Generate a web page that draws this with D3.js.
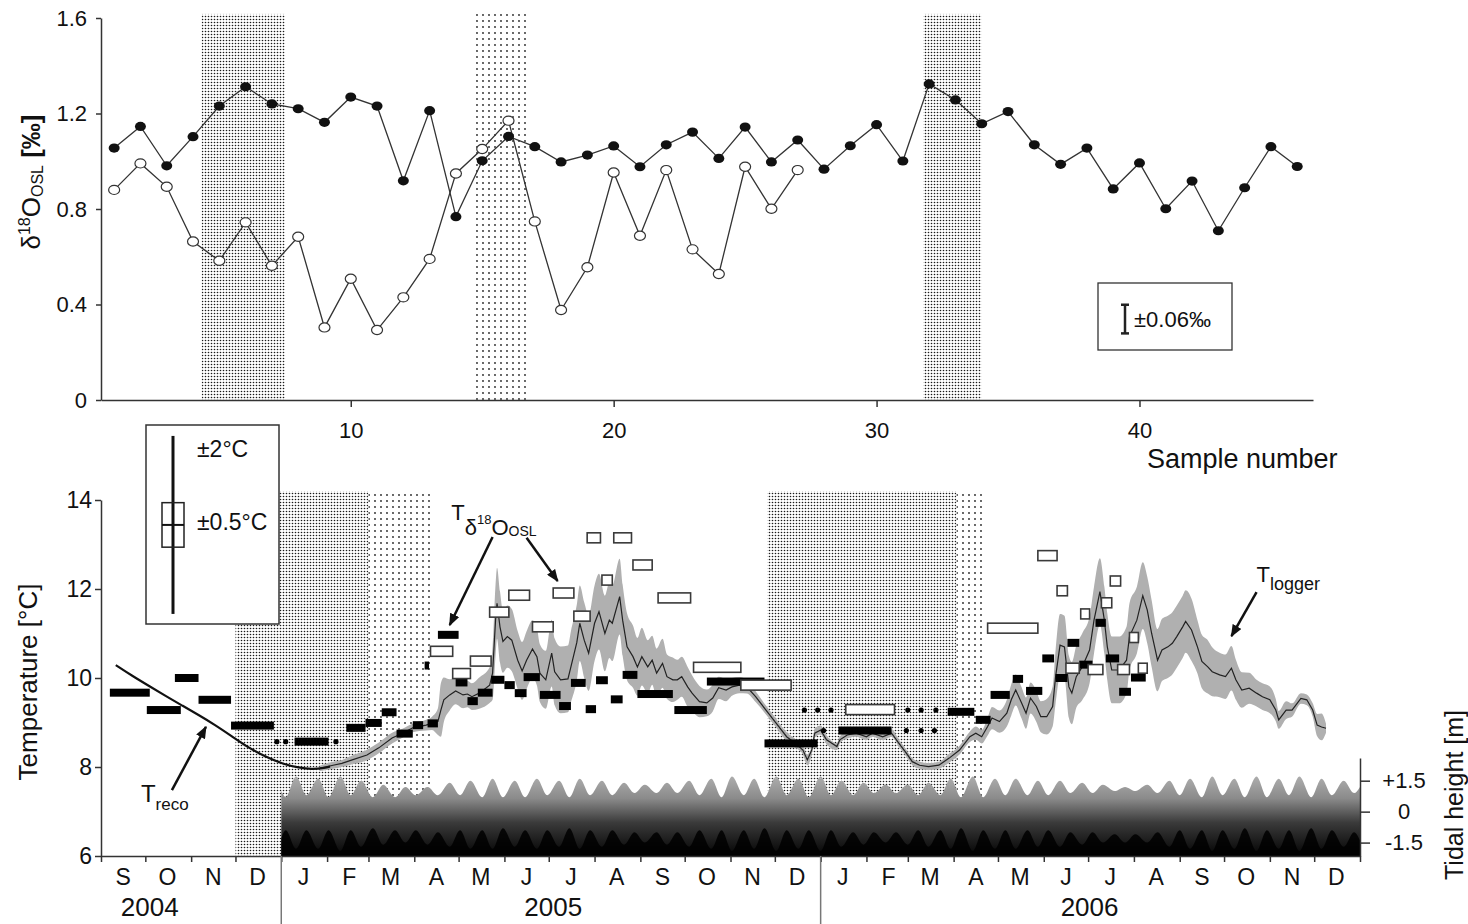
<!DOCTYPE html>
<html>
<head>
<meta charset="utf-8">
<script src="https://cdn.jsdelivr.net/npm/d3@7"></script>
<style>
  body { margin: 0; background: #fff; }
  svg { font-family: "Liberation Sans", Arial, sans-serif; }
  .axis path, .axis line { stroke: #333; stroke-width: 1.5; }
  .axis text { fill: #111; }
</style>
</head>
<body>
<svg id="chart" width="1468" height="924"></svg>
<script>
// ---------- top panel data: d18O per sample ----------
const sampleFilled = [1.055,1.146,0.981,1.103,1.231,1.312,1.240,1.220,1.163,1.269,1.231,0.918,1.212,0.768,1.002,
  1.104,1.061,0.997,1.026,1.064,0.977,1.069,1.122,1.012,1.143,0.997,1.089,0.967,1.065,1.153,1.001,1.324,1.257,
  1.157,1.208,1.069,0.987,1.055,0.884,0.993,0.801,0.917,0.709,0.889,1.061,0.978];
const sampleOpen = [0.880,0.991,0.893,0.664,0.583,0.744,0.562,0.684,0.304,0.508,0.293,0.430,0.591,0.949,1.051,
  1.170,0.748,0.377,0.556,0.953,0.688,0.963,0.631,0.528,0.977,0.801,0.963];
const sampleShade = [[4.33, 7.5, "dense"], [14.74, 16.72, "sparse"], [31.78, 33.98, "dense"]];
const sampleTicks = [10, 20, 30, 40];
const d18Ticks = [0, 0.4, 0.8, 1.2, 1.6];

// ---------- bottom panel data (days counted from 1 Jan 2005) ----------
const tempTicks = [6, 8, 10, 12, 14];
const tideTicks = [-1.5, 0, 1.5];
const years = [["2004", -89], ["2005", 184], ["2006", 547]];
const dateShade = [[-31, 59, "dense"], [59, 101, "sparse"], [329, 457, "dense"], [457, 476, "sparse"]];

// reconstructed temperature [day, T]
const tReco = [[-112,10.29],[-101,10.05],[-89,9.81],[-78,9.59],[-67,9.38],[-56,9.17],[-45,8.95],[-33,8.68],
  [-22,8.43],[-10,8.22],[1,8.07],[12,7.98],[21,7.95],[28,7.97],[33,8.01]];

// logger temperature [day, T, half range]
const logger = [[26,7.97,0.06],[35,8.04,0.08],[41,8.08,0.08],[48,8.16,0.1],[58,8.27,0.12],[66,8.43,0.12],
  [75,8.65,0.12],[82,8.76,0.1],[89,8.88,0.1],[98,8.94,0.12],[102,8.98,0.15],[106,9.02,0.3],[108,9.28,0.6],
  [110,9.51,0.5],[114,9.62,0.35],[118,9.71,0.3],[123,9.62,0.3],[126,9.64,0.3],[129,9.58,0.3],[134,9.66,0.35],
  [141,9.84,0.4],[143,10.11,0.6],[145,11.30,0.8],[146,11.68,0.8],[148,11.15,0.8],[150,10.82,0.7],[153,10.93,0.7],
  [156,10.85,0.7],[160,10.40,0.65],[163,10.16,0.65],[166,10.40,0.65],[170,10.65,0.65],[173,10.48,0.65],[175,10.11,0.65],
  [179,9.96,0.65],[183,10.56,0.75],[185,10.14,0.75],[189,9.96,0.75],[194,9.98,0.75],[196,10.25,0.8],[200,10.80,0.85],
  [202,11.23,0.85],[205,10.85,0.85],[208,10.56,0.85],[212,11.23,0.85],[215,11.49,0.85],[219,11.00,0.85],[222,11.30,0.85],
  [224,11.23,0.85],[229,11.83,0.85],[231,11.30,0.8],[234,10.70,0.75],[238,10.48,0.7],[241,10.25,0.65],[244,10.48,0.65],
  [248,10.25,0.6],[251,10.40,0.55],[254,10.11,0.55],[258,10.33,0.55],[261,10.03,0.5],[265,9.96,0.5],[268,9.96,0.45],
  [271,10.03,0.45],[275,9.80,0.45],[278,9.66,0.4],[283,9.47,0.35],[288,9.44,0.3],[292,9.55,0.3],[296,9.78,0.25],
  [301,9.73,0.25],[305,9.80,0.2],[310,9.84,0.18],[315,9.80,0.15],[321,9.58,0.12],[328,9.28,0.1],[335,8.98,0.1],
  [342,8.68,0.1],[348,8.53,0.1],[353,8.38,0.1],[356,8.16,0.12],[359,8.38,0.1],[361,8.76,0.1],[365,8.83,0.1],
  [369,8.61,0.1],[376,8.46,0.08],[378,8.61,0.08],[383,8.72,0.08],[389,8.76,0.08],[396,8.68,0.08],[400,8.76,0.08],
  [407,8.68,0.08],[413,8.76,0.08],[418,8.53,0.08],[423,8.31,0.08],[427,8.12,0.08],[432,8.04,0.08],[438,8.01,0.08],
  [445,8.04,0.08],[452,8.20,0.1],[459,8.38,0.1],[466,8.68,0.12],[470,8.76,0.15],[474,8.68,0.15],[478,8.91,0.2],
  [481,9.10,0.25],[486,9.02,0.25],[491,9.21,0.3],[494,9.51,0.35],[497,9.73,0.35],[501,9.44,0.35],[504,9.21,0.35],
  [507,9.55,0.35],[511,9.36,0.35],[514,9.13,0.35],[518,9.13,0.4],[522,9.36,0.45],[524,10.03,0.6],[527,10.74,0.7],
  [530,10.70,0.7],[533,9.80,0.7],[535,9.66,0.7],[538,10.03,0.7],[542,10.25,0.75],[547,10.63,0.75],[550,11.30,0.75],
  [554,11.94,0.75],[557,11.30,0.75],[559,10.70,0.75],[562,10.18,0.75],[567,10.18,0.75],[572,10.40,0.75],[574,10.93,0.75],
  [579,11.30,0.75],[583,11.85,0.75],[586,11.53,0.75],[589,11.00,0.75],[593,10.40,0.7],[596,10.63,0.7],[600,10.70,0.7],
  [603,10.78,0.7],[606,10.93,0.7],[610,11.15,0.7],[612,11.27,0.7],[616,11.08,0.7],[620,10.70,0.6],[623,10.37,0.6],
  [627,10.25,0.6],[630,10.14,0.55],[635,10.07,0.5],[639,10.03,0.5],[643,10.22,0.5],[646,9.96,0.45],[650,9.73,0.4],
  [655,9.77,0.35],[660,9.66,0.3],[664,9.58,0.3],[669,9.51,0.3],[673,9.28,0.25],[675,9.06,0.2],[680,9.28,0.2],
  [684,9.28,0.15],[690,9.54,0.12],[694,9.51,0.12],[698,9.28,0.15],[701,8.94,0.25],[704,8.90,0.3],[707,8.87,0.1]];

// temperatures from d18O of shell [start day, end day, T]
const barsFilled = [[-116,-89,9.67],[-91,-68,9.28],[-72,-56,10.0],[-56,-34,9.51],[-34,-5,8.93],[9,32,8.57],
  [44,57,8.88],[57,68,8.99],[68,78,9.23],[78,89,8.75],[89,96,8.94],[99,106,8.98],[106,120,10.97],[97,100,10.28],
  [118,126,9.90],[126,133,9.48],[133,143,9.67],[142,151,9.96],[151,158,9.84],[158,166,9.66],[164,175,10.02],
  [175,189,9.62],[188,196,9.37],[196,206,9.89],[206,213,9.30],[213,221,9.95],[223,231,9.52],[231,241,10.07],
  [241,265,9.64],[266,288,9.28],[288,327,9.92],[327,363,8.53],[377,413,8.82],[451,469,9.24],[470,480,9.06],
  [480,493,9.62],[495,502,9.98],[504,515,9.71],[515,523,10.44],[524,532,10.0],[532,540,10.79],[540,549,10.30],
  [551,558,11.24],[558,567,10.44],[567,575,9.69],[575,585,10.01]];
const barsOpen = [[101,116,10.6],[116,128,10.1],[128,142,10.38],[141,154,11.48],[154,168,11.86],[170,184,11.15],
  [184,198,11.91],[198,209,11.39],[207,216,13.15],[217,224,12.2],[225,237,13.15],[238,251,12.54],[255,277,11.8],
  [279,311,10.24],[311,345,9.84],[382,415,9.29],[478,512,11.12],[512,525,12.75],[525,532,11.96],[531,540,10.22],
  [541,547,11.44],[546,556,10.19],[555,562,11.69],[561,568,12.18],[566,574,10.19],[574,580,10.91],[580,586,10.22]];
const dots = [[-3,8.57],[3,8.57],[37,8.57],[354,9.28],[363,9.28],[372,9.28],[424,9.28],[433,9.28],[443,9.28],
  [367,8.82],[423,8.82],[433,8.82],[442,8.82]];

// tidal envelope [day, high water, low water] in m
const tide = [[0,1.0,-1.3],[3,0.7,-0.9],[10,1.7,-1.8],[17,0.8,-0.9],[25,1.6,-1.8],[32,0.7,-0.9],[40,1.7,-1.9],
  [47,0.8,-0.9],[54,1.5,-1.7],[62,0.7,-0.8],[69,1.3,-1.6],[77,0.7,-0.9],[84,1.2,-1.5],[91,0.8,-0.9],[99,1.2,-1.6],
  [106,0.8,-1.0],[114,1.4,-1.7],[121,0.8,-0.9],[128,1.5,-1.8],[136,0.7,-0.9],[143,1.6,-1.8],[150,0.7,-0.8],
  [158,1.5,-1.7],[165,0.7,-0.9],[173,1.6,-1.8],[180,0.8,-0.9],[188,1.5,-1.7],[195,0.7,-0.8],[202,1.6,-1.8],
  [209,0.8,-0.9],[217,1.5,-1.7],[224,0.8,-0.9],[232,1.4,-1.6],[239,0.9,-1.0],[246,1.3,-1.5],[254,0.9,-1.0],
  [261,1.4,-1.6],[268,0.9,-1.0],[276,1.5,-1.7],[283,0.8,-0.9],[291,1.6,-1.8],[298,0.7,-0.9],[305,1.7,-1.9],
  [313,0.8,-0.9],[320,1.6,-1.8],[327,0.7,-0.8],[335,1.7,-1.9],[342,0.8,-0.9],[350,1.6,-1.8],[357,0.7,-0.9],
  [365,1.7,-1.9],[372,0.8,-0.9],[379,1.5,-1.7],[387,0.8,-1.0],[394,1.4,-1.6],[401,0.9,-1.0],[409,1.3,-1.5],
  [416,0.9,-1.0],[424,1.3,-1.6],[431,0.8,-0.9],[438,1.4,-1.7],[446,0.8,-0.9],[453,1.6,-1.8],[460,0.7,-0.8],
  [468,1.7,-1.9],[475,0.7,-0.9],[483,1.6,-1.8],[490,0.8,-0.9],[497,1.6,-1.8],[505,0.8,-0.9],[512,1.5,-1.7],
  [519,0.8,-0.9],[527,1.5,-1.7],[534,0.9,-1.0],[542,1.4,-1.6],[549,0.9,-1.0],[556,1.3,-1.5],[564,1.0,-1.1],
  [571,1.2,-1.5],[578,1.0,-1.1],[586,1.3,-1.5],[593,0.9,-1.0],[601,1.5,-1.7],[608,0.8,-0.9],[615,1.6,-1.8],
  [623,0.7,-0.9],[630,1.7,-1.9],[637,0.8,-0.9],[645,1.6,-1.8],[652,0.7,-0.8],[660,1.7,-1.9],[667,0.7,-0.9],
  [675,1.6,-1.8],[682,0.8,-0.9],[689,1.7,-1.9],[697,0.7,-0.8],[704,1.6,-1.8],[711,0.8,-0.9],[719,1.5,-1.7],
  [726,0.9,-1.0],[730,1.2,-1.4]];

// ---------- setup ----------
const svg = d3.select("#chart");
const defs = svg.append("defs");

const dense = defs.append("pattern").attr("id", "dense").attr("patternUnits", "userSpaceOnUse")
  .attr("width", 3).attr("height", 3);
dense.append("rect").attr("width", 3).attr("height", 3).attr("fill", "#fff");
dense.append("circle").attr("cx", 1.5).attr("cy", 1.5).attr("r", 0.8).attr("fill", "#1a1a1a");

const sparse = defs.append("pattern").attr("id", "sparse").attr("patternUnits", "userSpaceOnUse")
  .attr("width", 6).attr("height", 6);
sparse.append("rect").attr("width", 6).attr("height", 6).attr("fill", "#fff");
sparse.append("circle").attr("cx", 3).attr("cy", 3).attr("r", 0.9).attr("fill", "#222");

defs.append("marker").attr("id", "arrow").attr("viewBox", "0 0 10 8")
  .attr("refX", 9).attr("refY", 4).attr("markerWidth", 13).attr("markerHeight", 10)
  .attr("markerUnits", "userSpaceOnUse").attr("orient", "auto")
  .append("path").attr("d", "M0,0 L10,4 L0,8 Z").attr("fill", "#111");

// ================= TOP PANEL =================
const xS = d3.scaleLinear().domain([0.5, 46.6]).range([101, 1313]);
const yS = d3.scaleLinear().domain([0, 1.6]).range([400, 18]);

svg.append("g").selectAll("rect").data(sampleShade).join("rect")
  .attr("x", d => xS(d[0])).attr("width", d => xS(d[1]) - xS(d[0]))
  .attr("y", yS(1.617)).attr("height", yS(0) - yS(1.617))
  .attr("fill", d => `url(#${d[2]})`);

const lineS = d3.line().x((d, i) => xS(i + 1)).y(d => yS(d));
svg.append("path").attr("d", lineS(sampleOpen)).attr("fill", "none").attr("stroke", "#333").attr("stroke-width", 1.3);
svg.append("path").attr("d", lineS(sampleFilled)).attr("fill", "none").attr("stroke", "#333").attr("stroke-width", 1.3);

svg.append("g").selectAll("ellipse").data(sampleOpen).join("ellipse")
  .attr("cx", (d, i) => xS(i + 1)).attr("cy", d => yS(d)).attr("rx", 5.5).attr("ry", 4.6)
  .attr("fill", "#fff").attr("stroke", "#333").attr("stroke-width", 1.2);
svg.append("g").selectAll("ellipse").data(sampleFilled).join("ellipse")
  .attr("cx", (d, i) => xS(i + 1)).attr("cy", d => yS(d)).attr("rx", 5.5).attr("ry", 4.6)
  .attr("fill", "#111");

svg.append("g").attr("class", "axis").attr("transform", "translate(101,0)")
  .call(d3.axisLeft(yS).tickValues(d18Ticks).tickFormat(d => d === 0 ? "0" : d.toFixed(1))
    .tickSize(5).tickSizeOuter(0).tickPadding(9))
  .selectAll("text").attr("font-size", 22);
svg.append("g").attr("class", "axis").attr("transform", "translate(0,400)")
  .call(d3.axisBottom(xS).tickValues(sampleTicks).tickSize(7).tickSizeOuter(0).tickPadding(15))
  .selectAll("text").attr("font-size", 22);

svg.append("text").attr("x", 1147).attr("y", 468).attr("font-size", 27).attr("fill", "#111").text("Sample number");

const yl = svg.append("text").attr("transform", "translate(40,182) rotate(-90)")
  .attr("text-anchor", "middle").attr("font-size", 26).attr("fill", "#111");
yl.append("tspan").text("δ");
yl.append("tspan").attr("font-size", 16).attr("dy", -10).text("18");
yl.append("tspan").attr("dy", 10).text("O");
yl.append("tspan").attr("font-size", 16).attr("dy", 3).text("OSL");
yl.append("tspan").attr("dy", -3).attr("font-weight", "bold").text(" [‰]");

// error legend
svg.append("rect").attr("x", 1098).attr("y", 283).attr("width", 134).attr("height", 67)
  .attr("fill", "#fff").attr("stroke", "#333").attr("stroke-width", 1.3);
const eC = 0.339, eX = 1125;
const eg = svg.append("g").attr("stroke", "#222").attr("stroke-width", 2.5);
eg.append("line").attr("x1", eX).attr("x2", eX).attr("y1", yS(eC + 0.06)).attr("y2", yS(eC - 0.06));
eg.append("line").attr("x1", eX - 4).attr("x2", eX + 4).attr("y1", yS(eC + 0.06)).attr("y2", yS(eC + 0.06));
eg.append("line").attr("x1", eX - 4).attr("x2", eX + 4).attr("y1", yS(eC - 0.06)).attr("y2", yS(eC - 0.06));
svg.append("text").attr("x", 1134).attr("y", 327).attr("font-size", 22).attr("fill", "#111").text("±0.06‰");

// ================= BOTTOM PANEL =================
const base = new Date(2005, 0, 1);
const day = n => d3.timeDay.offset(base, n);
const xT = d3.scaleTime().domain([new Date(2004, 8, 1), new Date(2007, 0, 1)]).range([101, 1360]);
const yT = d3.scaleLinear().domain([6, 14]).range([856, 500]);
const yTide = d3.scaleLinear().domain([-2.15, 2.6]).range([856, 758]);

// shaded periods
svg.append("g").selectAll("rect").data(dateShade).join("rect")
  .attr("x", d => xT(day(d[0]))).attr("width", d => xT(day(d[1])) - xT(day(d[0])))
  .attr("y", yT(14.2)).attr("height", yT(6) - yT(14.2))
  .attr("fill", d => `url(#${d[2]})`);

// tides
const tg = defs.append("linearGradient").attr("id", "tideGrad").attr("gradientUnits", "userSpaceOnUse")
  .attr("x1", 0).attr("x2", 0).attr("y1", yTide(1.8)).attr("y2", yTide(-2.1));
tg.append("stop").attr("offset", 0).attr("stop-color", "#b0b0b0");
tg.append("stop").attr("offset", 0.3).attr("stop-color", "#8a8a8a");
tg.append("stop").attr("offset", 0.6).attr("stop-color", "#3a3a3a");
tg.append("stop").attr("offset", 1).attr("stop-color", "#050505");

const areaHigh = d3.area().x(d => xT(day(d[0]))).y0(yT(6)).y1(d => yTide(d[1])).curve(d3.curveMonotoneX);
const areaLow = d3.area().x(d => xT(day(d[0]))).y0(yT(6)).y1(d => yTide(d[2])).curve(d3.curveMonotoneX);
svg.append("path").attr("d", areaHigh(tide)).attr("fill", "url(#tideGrad)");
svg.append("path").attr("d", areaLow(tide)).attr("fill", "#000").attr("opacity", 0.85);

// logger band and line
const band = d3.area().x(d => xT(day(d[0]))).y0(d => yT(d[1] - d[2])).y1(d => yT(d[1] + d[2]))
  .curve(d3.curveMonotoneX);
svg.append("path").attr("d", band(logger)).attr("fill", "#b0b0b0");
svg.append("path").attr("d", d3.line().x(d => xT(day(d[0]))).y(d => yT(d[1]))(logger))
  .attr("fill", "none").attr("stroke", "#222").attr("stroke-width", 1.2);

// reconstructed line
svg.append("path").attr("d", d3.line().x(d => xT(day(d[0]))).y(d => yT(d[1])).curve(d3.curveBasis)(tReco))
  .attr("fill", "none").attr("stroke", "#111").attr("stroke-width", 2.2);

// bars
svg.append("g").selectAll("rect").data(barsFilled).join("rect")
  .attr("x", d => xT(day(d[0]))).attr("width", d => xT(day(d[1])) - xT(day(d[0])))
  .attr("y", d => yT(d[2]) - 4).attr("height", 8).attr("fill", "#000");
svg.append("g").selectAll("circle").data(dots).join("circle")
  .attr("cx", d => xT(day(d[0]))).attr("cy", d => yT(d[1])).attr("r", 2.6).attr("fill", "#000");
svg.append("g").selectAll("rect").data(barsOpen).join("rect")
  .attr("x", d => xT(day(d[0]))).attr("width", d => xT(day(d[1])) - xT(day(d[0])))
  .attr("y", d => yT(d[2]) - 5).attr("height", 10)
  .attr("fill", "#fff").attr("stroke", "#3a3a3a").attr("stroke-width", 1.6);

// axes
svg.append("g").attr("class", "axis").attr("transform", "translate(101,0)")
  .call(d3.axisLeft(yT).tickValues(tempTicks).tickSize(6).tickSizeOuter(0).tickPadding(3))
  .selectAll("text").attr("font-size", 23);

const months = d3.timeMonth.range(new Date(2004, 8, 1), new Date(2007, 0, 2));
svg.append("g").attr("class", "axis").attr("transform", "translate(0,856)")
  .call(d3.axisBottom(xT).tickValues(months).tickSize(6).tickSizeOuter(0).tickFormat(""));
svg.append("g").selectAll("text").data(months.slice(0, -1)).join("text")
  .attr("x", d => xT(d3.timeDay.offset(d, 15))).attr("y", 885)
  .attr("text-anchor", "middle").attr("font-size", 23).attr("fill", "#111")
  .text(d => d3.timeFormat("%b")(d)[0]);

svg.append("g").selectAll("line").data([0, 365]).join("line")
  .attr("x1", d => xT(day(d))).attr("x2", d => xT(day(d)))
  .attr("y1", 856).attr("y2", 924).attr("stroke", "#777").attr("stroke-width", 1.5);
svg.append("g").selectAll("text").data(years).join("text")
  .attr("x", d => xT(day(d[1]))).attr("y", 916).attr("text-anchor", "middle")
  .attr("font-size", 26).attr("fill", "#111").text(d => d[0]);

svg.append("text").attr("transform", "translate(37,682) rotate(-90)").attr("text-anchor", "middle")
  .attr("font-size", 26).attr("fill", "#111").text("Temperature [°C]");

// tidal axis
const tAx = svg.append("g").attr("class", "axis").attr("transform", "translate(1360,0)")
  .call(d3.axisRight(yTide).tickValues(tideTicks).tickSize(10).tickSizeOuter(0)
    .tickFormat(d => d > 0 ? "+1.5" : d < 0 ? "-1.5" : "0"));
tAx.selectAll("text").attr("font-size", 22).attr("text-anchor", "middle").attr("x", 44);
svg.append("text").attr("transform", "translate(1463,795) rotate(-90)").attr("text-anchor", "middle")
  .attr("font-size", 25).attr("fill", "#111").text("Tidal height [m]");

// error legend
const lg = svg.append("g");
lg.append("rect").attr("x", 146).attr("y", 425).attr("width", 133).attr("height", 199)
  .attr("fill", "#fff").attr("stroke", "#333").attr("stroke-width", 1.5);
const lC = 13.44, lX = 173;
lg.append("line").attr("x1", lX).attr("x2", lX).attr("y1", yT(lC + 2)).attr("y2", yT(lC - 2))
  .attr("stroke", "#111").attr("stroke-width", 3);
lg.append("rect").attr("x", lX - 11).attr("width", 22).attr("y", yT(lC + 0.5)).attr("height", yT(lC - 0.5) - yT(lC + 0.5))
  .attr("fill", "none").attr("stroke", "#222").attr("stroke-width", 1.5);
lg.append("line").attr("x1", lX - 11).attr("x2", lX + 11).attr("y1", yT(lC)).attr("y2", yT(lC))
  .attr("stroke", "#111").attr("stroke-width", 2);
lg.append("text").attr("x", 197).attr("y", 457).attr("font-size", 23).attr("fill", "#111").text("±2°C");
lg.append("text").attr("x", 197).attr("y", 530).attr("font-size", 23).attr("fill", "#111").text("±0.5°C");

// annotations: [from day, from T, to day, to T]
const arrows = [[-74, 7.48, -51, 8.90], [143, 13.17, 114, 11.19], [166, 13.15, 187, 12.18], [660, 11.93, 643, 10.94]];
svg.append("g").selectAll("line").data(arrows).join("line")
  .attr("x1", d => xT(day(d[0]))).attr("y1", d => yT(d[1]))
  .attr("x2", d => xT(day(d[2]))).attr("y2", d => yT(d[3]))
  .attr("stroke", "#111").attr("stroke-width", 2.5).attr("marker-end", "url(#arrow)");

const tr = svg.append("text").attr("x", xT(day(-95))).attr("y", yT(7.21)).attr("font-size", 24).attr("fill", "#111");
tr.append("tspan").text("T");
tr.append("tspan").attr("font-size", 17).attr("dy", 8).text("reco");

const td = svg.append("text").attr("x", xT(day(115))).attr("y", yT(13.55)).attr("font-size", 22).attr("fill", "#111");
td.append("tspan").text("T");
td.append("tspan").attr("dy", 15).text("δ");
td.append("tspan").attr("font-size", 13).attr("dy", -11).text("18");
td.append("tspan").attr("dy", 11).text("O");
td.append("tspan").attr("font-size", 14).attr("dy", 1).text("OSL");

const tl = svg.append("text").attr("x", xT(day(660))).attr("y", yT(12.16)).attr("font-size", 22).attr("fill", "#111");
tl.append("tspan").text("T");
tl.append("tspan").attr("font-size", 18).attr("dy", 8).text("logger");
</script>
</body>
</html>
